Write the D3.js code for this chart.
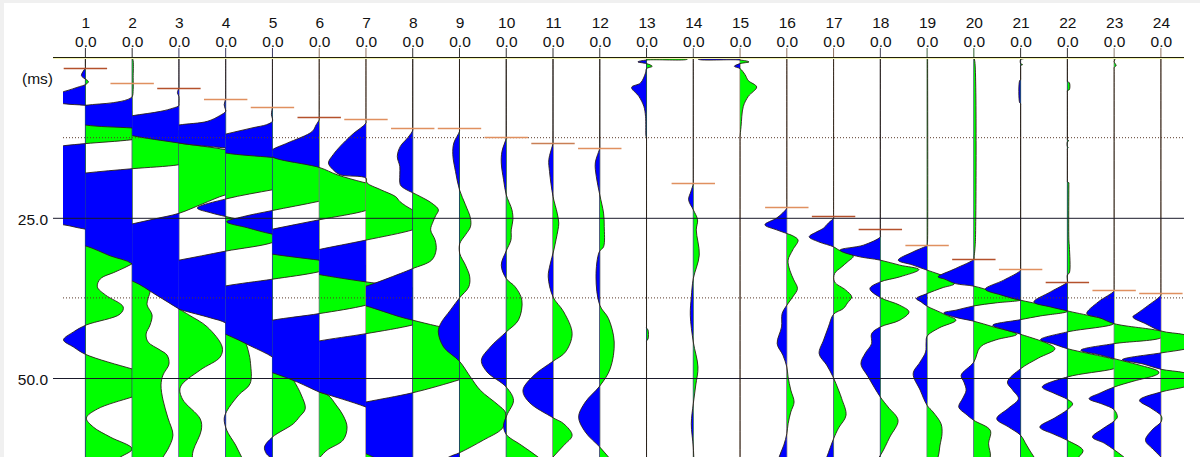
<!DOCTYPE html>
<html><head><meta charset="utf-8">
<script src="https://cdn.jsdelivr.net/npm/d3@7/dist/d3.min.js"></script>
<style>html,body{margin:0;padding:0;background:#fff;overflow:hidden}svg{display:block}text{font-family:"Liberation Sans",Arial,sans-serif;fill:#111}</style>
</head><body><svg id="c" width="1200" height="457"></svg>
<script>
// each trace: [time in ms, amplitude]; amplitude is clipped at +/-47 units
const trace1=[[0,0],[1.2,0],[1.56,0],[2.81,-4],[3.75,3],[4.22,0],[4.53,-6],[5.31,-22],[6.25,-50],[7.19,-22],[7.45,0],[8.44,47],[9.69,80],[12.03,80],[12.81,47],[13.42,0],[13.75,-22],[14.38,-55],[25.63,-55],[26.09,-22],[26.77,0],[27.5,47],[29.22,70],[30.78,60],[32.19,47],[33.44,30],[34.53,15],[35.78,12],[37.03,20],[38.91,38],[40,35],[41.72,1],[42.81,-12],[44.06,-22],[45.16,-12],[46.3,0],[48.59,47],[49.53,70],[51.88,70],[52.97,47],[54.84,12],[56.25,1],[57.66,8],[59.22,25],[61.05,47],[62.34,35],[64.38,10]];
const trace2=[[0,0],[0.5,1],[3.13,1],[5,1],[6.09,0],[6.56,-5],[7.03,-19],[7.45,-47],[8.13,-70],[9.69,-70],[10.52,-47],[10.98,0],[11.45,47],[12.19,70],[15.94,70],[16.72,47],[17.34,0],[18.02,-47],[18.75,-80],[28.44,-80],[29.38,-47],[30.94,-22],[32.19,0],[34.69,12],[36.25,18],[37.61,16],[38.59,15],[40.16,20],[41.72,18],[43.13,14],[44.38,16],[45.63,28],[46.41,35],[47.81,37],[49.53,31],[51.09,29],[53.44,31],[56.25,36],[58.91,41],[61.09,36],[62.34,31],[64.38,25]];
const trace3=[[0,0],[4.3,0],[4.69,0],[5.47,-1.5],[6.09,0],[7.2,0],[7.5,0],[7.89,-6],[8.39,-18.5],[9.06,-46.5],[9.69,-70],[11.25,-70],[12.19,-46.5],[13.33,0],[14.38,47],[15.47,75],[20.63,75],[21.41,47],[22.81,24],[24.3,0],[25.16,-24],[25.94,-46.5],[26.88,-75],[33.91,-75],[34.89,-46.5],[37.03,-23],[39.22,0],[40.16,10],[42.03,28.5],[45.16,43.5],[46.72,41.5],[48.75,21.5],[51.41,1.5],[53.28,3.5],[56.41,21.5],[58.13,22.5],[61.25,14.5],[62.34,13.5],[64.38,15]];
const trace4=[[0,0],[6,0],[6.41,0],[7.34,-1.5],[7.97,-0.5],[8.39,0],[9.06,-6],[9.95,-18.5],[10.52,-47],[11.25,-70],[12.5,-70],[13.33,-47],[14.11,0],[14.84,47],[15.94,75],[19.84,75],[20.63,47],[22.03,1],[23.48,-28.5],[24.22,-15],[24.8,0],[25.63,25],[26.25,47],[27.81,60],[28.86,47],[30.2,0],[31.61,-47],[32.34,-75],[37.81,-75],[39.27,-47],[40.63,-15],[41.41,0],[42.97,11],[44.38,19.5],[45.94,23],[47.77,25],[50.89,24.5],[52.66,13],[55.2,1],[56.36,-1.5],[58.13,1],[60.47,10],[62.34,16],[64.38,24]];
const trace5=[[0,0],[7.3,0],[7.66,0],[8.91,-1],[9.53,0],[9.95,0],[10.47,-6],[10.94,-19.5],[11.92,-46.5],[12.81,-70],[14.06,-70],[14.89,-47],[15.58,0],[16.25,47],[17.19,75],[21.41,75],[22.45,46],[23.86,0],[24.84,-30],[25.63,-46],[26.56,-25],[27.55,0],[28.59,47],[30,70],[32.34,70],[33.44,46],[34.58,0],[35.63,-47],[36.56,-75],[41.72,-75],[43.17,-47],[45,-22],[46.72,0],[48.44,14],[50.27,21],[52.66,29],[54.8,33],[56.09,27],[57.14,21],[59.22,0],[60.78,-8],[61.83,-6],[62.34,-2.5],[64.38,15]];
const trace6=[[0,0],[9.3,0],[9.69,0],[10.47,-3],[11.52,-7],[13.33,-32],[14.38,-47],[15,-50],[15.58,-46],[17.14,0],[18.28,18],[19.45,44],[20,60],[22.97,60],[23.86,47],[25.31,0],[26.77,-47],[27.5,-70],[30,-70],[30.67,-47],[31.61,0],[32.5,47],[33.44,70],[37.5,70],[38.64,47],[39.95,0],[40.98,-47],[41.88,-75],[47.97,-75],[49.17,-47],[50.63,-22],[52.19,0],[52.7,9],[54.22,17],[55.83,24],[57.66,28],[59.69,24],[61.25,8],[62.34,1],[64.38,-10]];
const trace7=[[0,0],[9.8,0],[10.2,0],[12.03,-14],[13.86,-26],[15.16,-33],[16.45,-37.7],[17.5,-33],[18.28,-26],[18.8,0],[19.53,1],[20.63,15],[21.72,30],[22.45,34],[23.75,46.7],[24.53,60],[26.09,60],[26.88,47],[28.48,0],[29.95,-47],[30.78,-70],[33.13,-70],[33.86,-47],[35,0],[35.94,47],[36.88,70],[40.63,70],[41.72,47],[43.08,0],[44.22,-47],[45,-70],[51.09,-70],[52.19,-47],[54.53,0],[56.56,30],[59.69,40],[62.34,40],[64.38,30]];
const trace8=[[0,0],[11,0],[11.36,0],[12.5,-5],[13.86,-12.5],[15.42,-15.5],[16.98,-13],[18.28,-13],[19.84,-12.5],[20.47,-8],[21.09,0],[21.67,7.5],[22.7,19],[23.75,25.8],[24.69,23],[25.58,20.5],[26.88,18],[28.48,22.5],[30.05,23.5],[31.61,19],[32.92,0],[33.7,-12.5],[35.67,-47],[36.56,-70],[37.81,-70],[38.75,-47],[40.47,-12.5],[40.98,0],[41.88,24],[42.66,47],[43.44,70],[49.06,70],[50.27,47],[52.3,0],[53.75,-47],[54.69,-75],[60.63,-75],[61.83,-47],[62.34,-39.5],[64.38,0]];
const trace9=[[0,0],[11.2,0],[11.52,0],[13.33,-5.7],[15.16,-6.7],[17.77,-4],[20.63,0],[22.97,6],[25.05,11],[26.41,11],[27.66,6],[29.02,0.3],[30.58,0.3],[32.39,6],[34.22,10.3],[35.78,9.3],[37.5,0],[39.38,-9],[41.52,-19],[42.81,-21.3],[45.16,-16],[47.39,0],[49.84,11],[51.92,21],[54.22,39],[55.31,46],[56.56,46],[57.92,42.7],[59.69,24],[61.67,0],[62.34,-10.7],[64.38,-30]];
const trace10=[[0,0],[12.2,0],[12.55,0],[14.64,-4.3],[16.45,-5],[19.06,-2.7],[21.41,0],[23.75,5.7],[25.31,6.7],[26.88,5],[28.48,4.7],[30.16,0],[32.39,-5],[34.48,0],[35.78,9],[37.86,15.7],[40.94,12.3],[42.81,0],[45.16,-16],[47.23,-25],[49.06,-19.3],[51.41,0],[53.48,7.3],[55.78,0.7],[57.39,-2.7],[58.8,0],[60.47,15],[62.34,32],[64.38,47]];
const trace11=[[0,0],[13,0],[13.33,0],[15.94,-4.2],[17.77,-3.5],[21.67,0],[24.27,4.2],[25.83,5.8],[26.88,5],[28.44,3],[30.05,0.8],[32.34,-3],[34.22,-4.8],[37.34,0],[39.69,10.8],[43.08,19.2],[45.94,12.5],[47.39,0],[49.58,-19.2],[51.92,-30.2],[53.75,-24.2],[56.2,0],[57.14,10.8],[58.95,19.2],[60.52,10.8],[62.34,0],[64.38,-10]];
const trace12=[[0,0],[13.8,0],[14.11,0],[16.45,-4.5],[18.55,-3.5],[21.41,0],[24.27,3.8],[26.36,4.5],[29.53,3.8],[30.31,-0.5],[34.22,-3.8],[38.64,0],[40.73,8.8],[44.38,14.5],[48.55,10.5],[51.25,0],[53.75,-14.5],[56.09,-21.2],[58.44,-14.5],[60.78,0],[62.34,8.8],[64.38,20]];
const trace13=[[0,0],[0.09,41],[0.25,41],[0.38,0],[0.67,-8.7],[0.94,0],[1.36,5.7],[1.72,0],[2.39,-1],[3.95,-6],[4.64,-15],[6.05,-7.7],[7.61,-2.7],[9.17,-1],[12.3,-0.5],[12.5,0],[12.8,0],[41.9,0],[42.19,0],[42.5,1.5],[43.91,1.5],[44.22,0],[44.5,0],[64.38,0]];
const trace14=[[0,0],[19.3,0],[19.69,0],[20.94,-2.5],[22.19,-4.7],[23.75,0],[25.31,4.3],[26.88,3],[30.83,6],[34.48,0],[37.34,-2],[40.2,-3],[44.38,0],[48.28,4.7],[51.09,2.5],[54.02,0],[57.14,-2],[60.78,0],[64.38,1]];
const trace15=[[0,0],[0.09,-42],[0.25,-42],[0.38,0],[0.67,9],[0.94,0],[1.36,-5.7],[1.72,0],[2.66,5],[3.59,8.3],[4.58,16.7],[6.05,8.3],[7.61,3.3],[10.73,1],[12.39,0],[12.7,0],[64.38,0]];
const trace16=[[0,0],[23.1,0],[23.48,0],[24.22,-4],[25.05,-10.3],[26.09,-22],[26.88,-10.3],[27.45,0],[27.81,6],[28.48,11.3],[30,6],[31.61,1.3],[33.17,3],[34.69,7],[36.05,10.7],[37.34,6],[38.64,0],[39.95,-4.7],[42.03,-5.3],[44.64,-9.7],[46.41,-4],[48.28,0],[49.84,1.3],[51.88,4],[53.75,7.3],[55.31,4],[57.14,1.3],[58.7,0],[60.47,-3],[62.34,-7.7],[64.38,-10]];
const trace17=[[0,0],[24.7,0],[25.05,0],[25.78,-5],[26.67,-10.5],[27.19,-17],[27.97,-24.5],[28.75,-15],[29.53,0],[30,5],[30.98,19.8],[31.88,14],[32.66,8.2],[33.7,1],[35,1],[36.25,12],[37.34,18.2],[38.28,14],[39.17,9.8],[40.05,0],[42.03,-5.2],[44.06,-10],[46.2,-14.5],[47.97,-7],[49.84,-0.5],[51.88,5],[53.23,8.2],[55.83,12.5],[57.81,5],[59.48,0],[62.34,-6.8],[64.38,-12]];
const trace18=[[0,0],[27.6,0],[27.97,0],[29.27,-17],[30.05,-40.5],[30.98,-24],[31.61,0],[32.39,19.5],[33.08,38.8],[34.22,19.5],[35,0],[36.05,-10.5],[37.45,0],[38.64,19.5],[39.69,28.8],[40.98,19.5],[42.03,0],[43.08,-8.8],[44.64,-8.8],[46.09,-15],[47.77,-19.5],[49.84,-12.2],[52.97,0],[54.53,7.8],[56.61,17.8],[59.22,9.5],[62.08,0],[64.38,-12]];
const trace19=[[0,0.5],[28.44,0.5],[29,0.3],[29.27,0],[30.31,-14],[31.61,-29],[32.34,-15],[33.17,0],[33.75,11],[34.38,21],[35.27,27.5],[35.94,15],[36.83,0],[37.61,-10.8],[38.13,-6],[38.8,0],[39.38,8],[40.16,19],[40.98,29],[42.19,12],[43.48,0],[44.53,-1],[45.94,-1.5],[47.5,-7],[49.33,-14],[51.88,-7],[54.27,0],[55.31,6],[57.14,14],[58.7,15],[60.47,13],[62.34,11],[64.38,5]];
const trace20=[[0,0],[0.63,1],[28.44,1.6],[30,1],[31.1,0.2],[31.45,0],[32.92,-18.5],[34.22,-36],[34.53,-30],[35.27,-18.5],[35.67,0],[36.56,20],[37.61,39.8],[37.86,46.5],[38.28,22],[38.75,0],[39.38,-17],[39.84,-30.2],[40.47,-20],[41.14,0],[42.03,19.8],[43.17,43.2],[44.06,22],[45.16,6.5],[47.5,0],[49.58,-12.8],[50.63,-10],[51.92,-7.8],[53.13,-11],[54.53,-15.2],[55.63,-8],[56.61,0],[58.17,16.5],[60.27,14.8],[62.34,16.5],[64.38,8]];
const trace21=[[0,0],[0.16,3],[0.31,0],[0.94,0],[1.09,2],[1.25,0],[1.6,0],[3.2,0],[3.44,0],[3.59,-1],[7.03,-1],[7.19,0],[7.5,0],[32.8,0],[33.17,0],[34.73,-17],[36.14,-35.5],[37.03,-20],[37.86,0],[39.42,46],[39.61,47],[40.31,20],[40.89,0],[41.77,-28],[42.5,-15],[43.17,0],[45.42,34.5],[46.88,18],[48.55,0],[50.63,-13.2],[51.88,-8],[53.23,-2.2],[54.69,-12],[56.36,-24],[57.66,-12],[58.95,0],[60.47,6],[62.34,13.5],[64.38,25]];
const trace22=[[0,0],[3.5,0],[3.75,0],[3.91,2],[5,2],[5.16,0],[5.4,0],[12.6,0],[12.81,0],[12.97,1.5],[13.13,0],[13.91,0],[14.06,1],[14.22,0],[14.5,0],[19.2,0],[19.38,0],[19.53,1.5],[19.8,1.5],[28.44,1.5],[29.53,2],[33.59,2],[33.91,0],[34.7,0],[35,0],[36.56,-17],[38.13,-33.7],[38.91,-17],[39.53,0],[41.45,47],[42.81,0],[44.02,-27],[44.69,-14],[45.42,0],[47.08,47],[47.81,60],[48.55,47],[49.84,0],[51.41,-25.3],[52.34,-14],[53.33,0],[54.02,5.3],[54.95,0],[56.25,-13],[57.66,-27.7],[58.75,-14],[59.73,0],[61.3,15.7],[62.34,11.3],[64.38,-2]];
const trace23=[[0,0],[0.16,1],[0.63,0],[0.94,1],[1.25,2],[1.56,0],[1.9,0],[36.1,0],[36.41,0],[38.13,-16],[39.95,-27.5],[40.63,-14],[41.52,0],[42.7,47],[43.13,52],[43.75,47],[44.64,0],[45.67,-33.5],[46.41,-14],[46.98,0],[47.97,25],[48.91,44],[49.22,45],[49.58,41.5],[50.47,20],[51.41,0],[52.34,-14],[53.23,-25.2],[54.06,-12],[54.95,0],[56.09,3.2],[56.72,0],[57.97,-12],[59.22,-21.8],[60.16,-10],[61.2,0],[62.34,9.8],[64.38,25]];
const trace24=[[0,0],[36.7,0],[37.08,0],[38.59,-12],[39.95,-24],[40.47,-28.2],[41.56,-15],[42.66,0],[43.23,23.5],[44.06,40],[44.84,40],[45.52,23.5],[46.09,0],[47.14,-38.8],[47.81,-18],[48.64,0],[49.17,23.5],[50,40],[50.63,40],[51.41,23.5],[52.19,0],[53.48,-21.5],[54.69,-10],[55.83,0],[56.25,1],[56.88,0],[58.13,-9],[59.73,-15.5],[61.09,-8],[62.34,0],[64.38,10]];
const traces=[trace1,trace2,trace3,trace4,trace5,trace6,trace7,trace8,trace9,trace10,trace11,trace12,trace13,trace14,trace15,trace16,trace17,trace18,trace19,trace20,trace21,trace22,trace23,trace24];
const traceNumbers=d3.range(1,25);
const traceOffsets=traceNumbers.map(()=>"0.0");
const pickTimes=[1.56,3.91,4.69,6.41,7.66,9.22,9.61,10.94,11.02,12.42,13.28,14.06,null,19.53,null,23.28,24.77,26.8,29.22,31.48,32.97,35.08,36.25,36.8];
const pickShades=["d","l","d","l","l","d","l","l","l","l","m","l",null,"l",null,"l","d","d","l","d","l","d","l","l"];
const shadeColors={d:"#b4512c",m:"#c97f55",l:"#e0905f"};
const baseColors=["#2f2f35","#2f2f35","#3a3a60","#3a3a60","#3a3a60","#8f7360","#8f7360","#333","#333","#333","#333","#333","#333","#555","#8f7360","#8f7360","#8f7360","#404055","#446644","#2f5f2f","#333","#333","#8f8070","#8f7360"];
const timeTicks=[25,50];
const dottedTimes=[12.5,37.5];
const clipAmp=47;

const W=1200,H=457,plotL=63,plotR=1184,axisL=53;
const svg=d3.select("#c");
svg.append("rect").attr("width",W).attr("height",H).attr("fill","#fff");
svg.append("rect").attr("width",W).attr("height",3).attr("fill","#f0f0f0");
svg.append("rect").attr("width",4).attr("height",H).attr("fill","#f0f0f0");

const x=d3.scaleLinear().domain([1,24]).range([85.4,1160.9]);
const y=d3.scaleLinear().domain([0,50]).range([57.6,378]);
const amp=d3.scaleLinear().domain([-clipAmp,0,clipAmp]).range([-46.76,0,46.76]);
const defs=svg.append("defs");
const smooth=d3.curveCatmullRom.alpha(0.5);

traces.forEach((data,i)=>{
  const n=i+1,x0=x(n),s=amp(clipAmp);
  const L=Math.max(plotL,x0-s),R=Math.min(plotR,x0+s);
  [["neg",L,x0],["pos",x0,R],["all",L,R]].forEach(([k,a,b])=>{
    defs.append("clipPath").attr("id",`${k}${n}`).append("rect")
      .attr("x",a).attr("y",58).attr("width",b-a).attr("height",H);
  });
  const g=svg.append("g").attr("class","trace");
  g.append("line").attr("x1",x0).attr("x2",x0).attr("y1",48).attr("y2",H)
    .attr("stroke",baseColors[i]).attr("stroke-width",1);
  const area=d3.area().curve(smooth).y(d=>y(d[0])).x0(x0).x1(d=>x0+amp(d[1]));
  const line=d3.line().curve(smooth).y(d=>y(d[0])).x(d=>x0+amp(d[1]));
  g.append("path").attr("d",area(data)).attr("fill","#00ff00").attr("clip-path",`url(#pos${n})`);
  g.append("path").attr("d",area(data)).attr("fill","#0000ff").attr("clip-path",`url(#neg${n})`);
  g.append("path").attr("d",line(data)).attr("fill","none").attr("stroke","#2a2018").attr("stroke-width",0.9).attr("clip-path",`url(#all${n})`);
});

// time axis with full-width grid
const yAxis=d3.axisLeft(y).tickValues(timeTicks).tickSize(-(plotR-axisL)).tickPadding(5).tickFormat(d3.format(".1f"));
const ya=svg.append("g").attr("transform",`translate(${axisL},0)`).call(yAxis);
ya.select(".domain").remove();
ya.selectAll("line").attr("stroke","#1a1a2a").attr("stroke-width",1);
ya.selectAll("text").style("font-size","15.5px").attr("fill","#111").attr("dy","0.4em");

// zero line
svg.append("line").attr("x1",axisL).attr("x2",plotR).attr("y1",58.5).attr("y2",58.5).attr("stroke","#f4f4b0").attr("stroke-width",1);
svg.append("line").attr("x1",axisL).attr("x2",plotR).attr("y1",57.5).attr("y2",57.5).attr("stroke","#20200c").attr("stroke-width",1);

// dotted lines
svg.selectAll("line.dot").data(dottedTimes).join("line").attr("class","dot")
  .attr("x1",plotL).attr("x2",plotR).attr("y1",d=>y(d)).attr("y2",d=>y(d))
  .attr("stroke","#5a3a2a").attr("stroke-width",1).attr("stroke-dasharray","1 2");

// first-break picks
pickTimes.forEach((t,i)=>{
  if(t===null) return;
  const px=x(i+1);
  svg.append("line").attr("class","pick").attr("x1",px-21.7).attr("x2",px+21.7)
    .attr("y1",Math.round(y(t))+0.5).attr("y2",Math.round(y(t))+0.5)
    .attr("stroke",shadeColors[pickShades[i]]).attr("stroke-width",1.3);
});

// top labels
const topA=d3.axisTop(x).tickValues(traceNumbers).tickSize(0).tickPadding(0).tickFormat(d3.format("d"));
const gA=svg.append("g").attr("transform","translate(0,28)").call(topA);
gA.select(".domain").remove();
gA.selectAll("text").style("font-size","15.5px").attr("fill","#111");
const topB=d3.axisTop(x).tickValues(traceNumbers).tickSize(0).tickPadding(0).tickFormat((d,i)=>traceOffsets[i]);
const gB=svg.append("g").attr("transform","translate(0,46.5)").call(topB);
gB.select(".domain").remove();
gB.selectAll("text").style("font-size","15.5px").attr("fill","#111");

svg.append("text").attr("x",53).attr("y",84).attr("text-anchor","end").style("font-size","15.5px").text("(ms)");
</script></body></html>
